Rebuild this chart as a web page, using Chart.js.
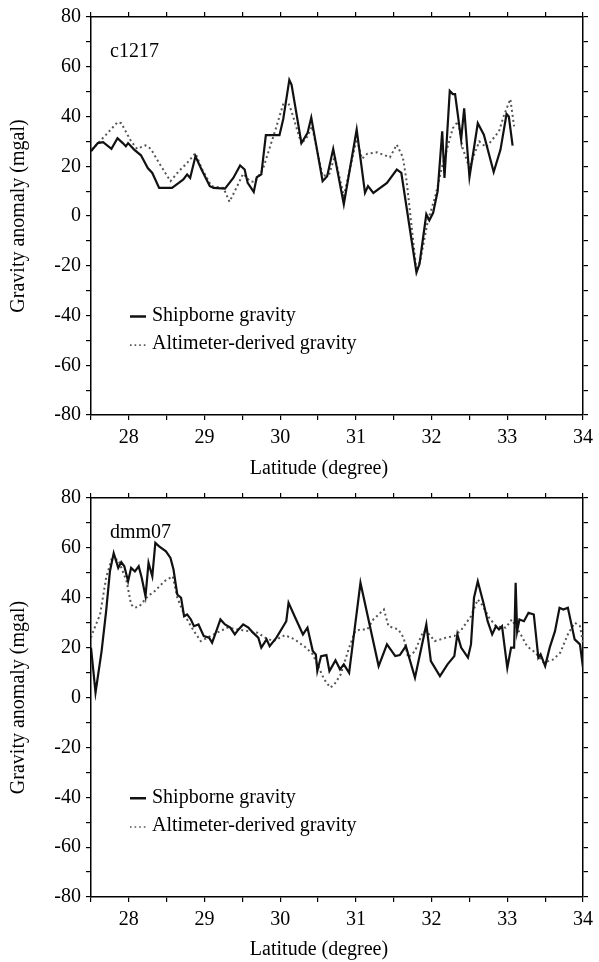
<!DOCTYPE html>
<html>
<head>
<meta charset="utf-8">
<script src="https://cdn.jsdelivr.net/npm/chart.js@4.4.1/dist/chart.umd.min.js"></script>
<style>
  html, body { margin: 0; padding: 0; background: #fff; }
  #wrap { position: relative; width: 599px; height: 962px; }
  .panel { position: absolute; left: 0; width: 599px; height: 481px; }
</style>
</head>
<body>
<div id="wrap">
  <div class="panel" style="top:0"><canvas id="c1217" width="599" height="481"></canvas></div>
  <div class="panel" style="top:481px"><canvas id="dmm07" width="599" height="481"></canvas></div>
</div>
<script>
// axis ticks
const latTicks = [28, 29, 30, 31, 32, 33, 34];
const gravTicks = [80, 60, 40, 20, 0, -20, -40, -60, -80];

// c1217 shipborne
const shipLat1 = [27.50, 27.59, 27.66, 27.77, 27.85, 27.92, 27.96, 27.99, 28.07, 28.16, 28.25, 28.31, 28.40, 28.57, 28.66, 28.72, 28.77, 28.81, 28.88, 28.96,
  29.07, 29.12, 29.27, 29.38, 29.47, 29.53, 29.57, 29.65, 29.69, 29.75, 29.81, 29.99, 30.04, 30.12, 30.15, 30.28, 30.36, 30.41, 30.56, 30.62,
  30.70, 30.84, 31.01, 31.12, 31.16, 31.23, 31.41, 31.54, 31.60, 31.80, 31.84, 31.93, 31.97, 32.02, 32.08, 32.14, 32.17, 32.24, 32.28, 32.31,
  32.39, 32.43, 32.50, 32.61, 32.69, 32.82, 32.91, 32.99, 33.02, 33.07];
const shipVal1 = [26, 29.3, 29.7, 27, 31.3, 29.3, 28, 29.3, 26.7, 24.4, 19.3, 17.3, 11.3, 11.3, 13.3, 14.7, 16.7, 15.3, 24, 18.7,
  12, 11.3, 11, 15.3, 20.3, 18.7, 13.3, 9.7, 15.6, 16.7, 32.5, 32.5, 39, 54.7, 52.7, 29.3, 33.3, 39.6, 14, 16,
  27, 4.7, 34.7, 9.3, 12, 9.3, 13.3, 18.7, 17.3, -22.7, -19.3, 0.7, -1.7, 1.3, 10, 34, 15.3, 50.3, 49, 49,
  30.7, 43.3, 15.6, 37.3, 32.7, 17.7, 26.7, 41, 40, 28.3];

// c1217 altimeter-derived
const altLat1 = [27.50, 27.53, 27.70, 27.85, 27.90, 28.03, 28.11, 28.22, 28.29, 28.40, 28.55, 28.66, 28.77, 28.88, 28.96, 29.09, 29.25, 29.33, 29.42, 29.51,
  29.60, 29.66, 29.77, 29.94, 30.05, 30.10, 30.15, 30.28, 30.36, 30.42, 30.56, 30.65, 30.72, 30.84, 31.01, 31.08, 31.15, 31.28, 31.45, 31.54,
  31.62, 31.67, 31.80, 31.85, 31.95, 32.05, 32.14, 32.28, 32.35, 32.41, 32.50, 32.56, 32.63, 32.72, 32.89, 32.95, 33.04, 33.09];
const altVal1 = [27, 27.3, 32.7, 37.7, 37.3, 30, 27, 28.4, 27, 21.3, 14, 18, 21.3, 25.3, 19.3, 12, 11.3, 5.7, 11.3, 17,
  14, 13.7, 18.7, 35, 46, 46, 42, 29, 32, 36, 16, 17, 24, 8, 31, 23, 25, 25.6, 23.6, 28.7,
  23.6, 14, -22, -18, -2, 8, 20, 35.3, 38, 27.3, 19.3, 24.6, 30, 27.6, 34, 40, 47, 36];

// dmm07 shipborne
const shipLat2 = [27.50, 27.56, 27.64, 27.70, 27.75, 27.80, 27.86, 27.90, 27.94, 27.99, 28.03, 28.08, 28.13, 28.17, 28.22, 28.26, 28.31, 28.35, 28.40, 28.49,
  28.55, 28.59, 28.64, 28.69, 28.73, 28.77, 28.82, 28.86, 28.92, 28.99, 29.06, 29.10, 29.14, 29.21, 29.27, 29.34, 29.40, 29.45, 29.51, 29.58,
  29.64, 29.71, 29.75, 29.82, 29.86, 29.95, 30.08, 30.11, 30.19, 30.30, 30.36, 30.43, 30.47, 30.49, 30.54, 30.61, 30.65, 30.73, 30.79, 30.84,
  30.91, 31.06, 31.30, 31.41, 31.52, 31.58, 31.66, 31.78, 31.93, 31.99, 32.11, 32.21, 32.30, 32.34, 32.39, 32.48, 32.52, 32.56, 32.61, 32.69,
  32.74, 32.80, 32.85, 32.89, 32.93, 33.00, 33.05, 33.09, 33.11, 33.13, 33.16, 33.22, 33.28, 33.35, 33.41, 33.44, 33.50, 33.56, 33.63, 33.69,
  33.74, 33.80, 33.89, 33.96, 34.00];
const shipVal2 = [20, 2, 18.6, 34.6, 50.6, 57.9, 52, 54.3, 52.6, 46.6, 52, 50.6, 52.6, 48, 40.6, 54, 48.6, 62, 60.6, 58.6,
  56, 51.3, 41.3, 40, 32.6, 33.3, 31.3, 28.6, 29.3, 24.6, 24, 22, 25.3, 31.3, 29.3, 28, 25.3, 27.3, 29.3, 28,
  26, 24, 20, 23.3, 20.6, 24, 30.6, 38, 32.6, 25.3, 28, 18.6, 17.3, 10.6, 16.6, 17, 10.6, 14.9, 11.3, 13.3,
  9.9, 46, 12.6, 21.3, 16.6, 17, 20.6, 7.9, 29.3, 14.6, 8.6, 13.3, 16.6, 25.3, 20, 16, 21.3, 40, 46.6, 37.3,
  30.6, 25.3, 28.6, 27.3, 28.6, 11.9, 20, 20, 46, 26.6, 31.3, 30.6, 34, 33.3, 16, 17.3, 12.6, 20, 26.6, 36,
  35.3, 36, 23.3, 21.3, 12];

// dmm07 altimeter-derived
const altLat2 = [27.50, 27.53, 27.62, 27.70, 27.77, 27.86, 27.97, 28.03, 28.08, 28.14, 28.25, 28.34, 28.47, 28.58, 28.64, 28.73, 28.86, 28.95, 29.10, 29.30,
  29.50, 29.70, 29.80, 29.91, 30.06, 30.19, 30.34, 30.43, 30.49, 30.58, 30.66, 30.71, 30.80, 30.91, 30.99, 31.06, 31.15, 31.23, 31.37, 31.43,
  31.56, 31.63, 31.69, 31.78, 31.89, 31.97, 32.04, 32.19, 32.30, 32.39, 32.52, 32.61, 32.67, 32.76, 32.85, 32.98, 33.06, 33.19, 33.26, 33.37,
  33.48, 33.61, 33.70, 33.80, 33.89, 33.96, 34.00];
const altVal2 = [24, 26.6, 33.3, 48, 55.3, 55.3, 46.6, 37.3, 36, 36.6, 40.6, 42.6, 46.6, 48.6, 40, 33.3, 26.6, 22.6, 25, 28,
  27, 26, 24, 22.6, 25, 23.3, 20, 17.3, 13.3, 7.3, 4, 5, 9.3, 20, 26.6, 27.3, 27.3, 31.3, 35.3, 28.6,
  27.3, 24, 16, 18.6, 26.6, 25.3, 22.6, 24, 24.6, 27, 32.6, 39.3, 37, 32, 28.6, 28, 31.3, 24.6, 20.6, 18,
  14, 15.3, 18, 25.3, 30, 28.6, 22];

const serif = 'Liberation Serif';
const toPoints = (xs, ys) => xs.map((x, i) => ({ x, y: ys[i] }));

// titles, track label and legend drawn on the canvas
const annotations = {
  id: 'annotations',
  afterDraw(chart, args, opts) {
    const { ctx, chartArea, scales } = chart;
    ctx.save();
    ctx.fillStyle = '#000';
    ctx.font = `20px "${serif}"`;
    ctx.textBaseline = 'alphabetic';
    ctx.textAlign = 'left';
    ctx.fillText(opts.track, 110, chartArea.top + 40);

    // legend
    const y1 = scales.y.getPixelForValue(-40);
    const y2 = scales.y.getPixelForValue(-51.5);
    ctx.textBaseline = 'middle';
    ctx.fillText('Shipborne gravity', 152, y1);
    ctx.fillText('Altimeter-derived gravity', 152, y2);
    ctx.lineWidth = 2.5;
    ctx.strokeStyle = '#111';
    ctx.beginPath();
    ctx.moveTo(130, y1 + 1);
    ctx.lineTo(146, y1 + 1);
    ctx.stroke();
    ctx.strokeStyle = '#555';
    ctx.lineWidth = 1.6;
    ctx.setLineDash([1.6, 3]);
    ctx.beginPath();
    ctx.moveTo(130, y2 + 1);
    ctx.lineTo(146, y2 + 1);
    ctx.stroke();
    ctx.setLineDash([]);

    // axis titles
    ctx.textAlign = 'center';
    ctx.textBaseline = 'alphabetic';
    ctx.fillText('Latitude (degree)', 319, 474);
    ctx.translate(24, (chartArea.top + chartArea.bottom) / 2);
    ctx.rotate(-Math.PI / 2);
    ctx.textBaseline = 'alphabetic';
    ctx.fillText('Gravity anomaly (mgal)', 0, 0);
    ctx.restore();
  }
};

const makeChart = (id, track, ship, alt, topPad) => {
  const frame = { display: true, color: '#000', width: 1.5 };
  const grid = { drawOnChartArea: false, color: '#000', tickLength: 5, lineWidth: 1.2 };
  const xTicks = {
    stepSize: 0.5,
    padding: 6,
    color: '#000',
    font: { family: serif, size: 20 },
    autoSkip: false,
    maxRotation: 0,
    callback: v => latTicks.includes(v) ? String(v) : ''
  };
  const yTicks = {
    stepSize: 10,
    padding: 5,
    color: '#000',
    font: { family: serif, size: 20 },
    autoSkip: false,
    callback: v => gravTicks.includes(v) ? String(v) : ''
  };
  return new Chart(document.getElementById(id), {
    type: 'scatter',
    data: {
      datasets: [
        {
          label: 'Shipborne gravity',
          data: ship,
          showLine: true,
          borderColor: '#111',
          borderWidth: 2.2,
          pointRadius: 0,
          tension: 0
        },
        {
          label: 'Altimeter-derived gravity',
          data: alt,
          showLine: true,
          borderColor: '#555',
          borderWidth: 2,
          borderDash: [2, 3],
          pointRadius: 0,
          tension: 0
        }
      ]
    },
    options: {
      responsive: false,
      animation: false,
      devicePixelRatio: 1,
      layout: { padding: 0 },
      plugins: {
        legend: { display: false },
        tooltip: { enabled: false },
        annotations: { track }
      },
      scales: {
        x: {
          type: 'linear', position: 'bottom', min: 27.5, max: 34,
          border: frame, grid, ticks: xTicks,
          afterFit: s => { s.height = 481 - 400 - topPad; }
        },
        x2: {
          type: 'linear', position: 'top', min: 27.5, max: 34,
          border: frame, grid, ticks: { ...xTicks, display: false },
          afterFit: s => { s.height = topPad; }
        },
        y: {
          type: 'linear', position: 'left', min: -80, max: 80,
          border: frame, grid, ticks: yTicks,
          afterFit: s => { s.width = 91; }
        },
        y2: {
          type: 'linear', position: 'right', min: -80, max: 80,
          border: frame, grid, ticks: { ...yTicks, display: false },
          afterFit: s => { s.width = 9; }
        }
      }
    },
    plugins: [annotations]
  });
};

makeChart('c1217', 'c1217', toPoints(shipLat1, shipVal1), toPoints(altLat1, altVal1), 15);
makeChart('dmm07', 'dmm07', toPoints(shipLat2, shipVal2), toPoints(altLat2, altVal2), 16);
</script>
</body>
</html>
